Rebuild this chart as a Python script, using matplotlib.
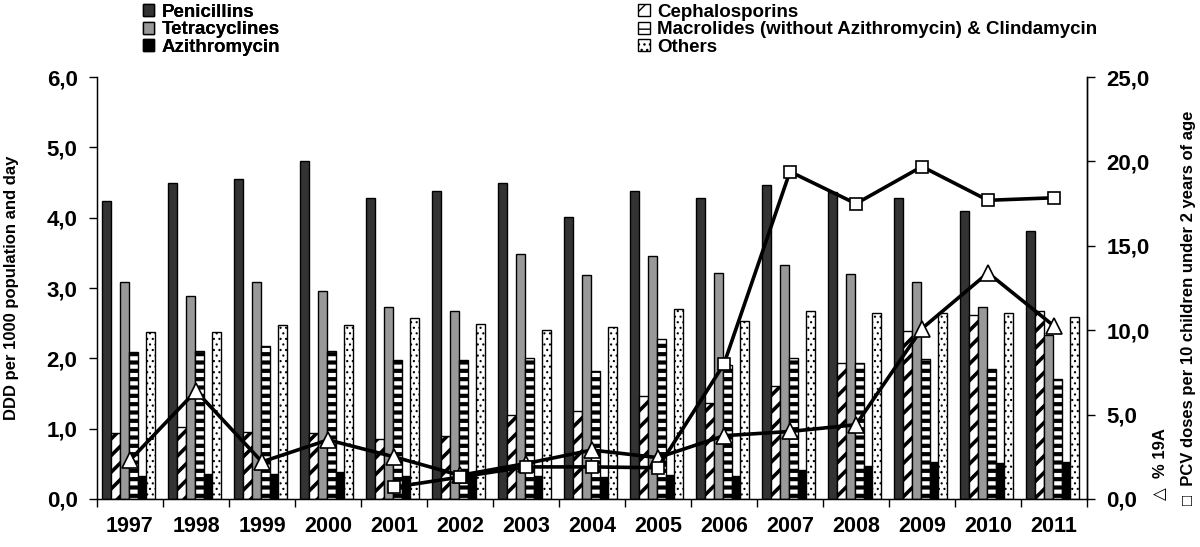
import matplotlib
matplotlib.use("Agg")
import matplotlib.pyplot as plt
from matplotlib.patches import Patch
from matplotlib.ticker import FuncFormatter
import numpy as np

plt.rcParams['font.family'] = ['Liberation Sans', 'DejaVu Sans']
plt.rcParams['font.weight'] = 'bold'

years = ["1997", "1998", "1999", "2000", "2001", "2002", "2003", "2004",
         "2005", "2006", "2007", "2008", "2009", "2010", "2011"]

# DDD per 1000 population and day
penicillins = [4.24, 4.50, 4.55, 4.81, 4.28, 4.38, 4.49, 4.01, 4.38, 4.28, 4.46, 4.37, 4.28, 4.10, 3.81]
cephalosporins = [0.94, 1.03, 0.95, 0.94, 0.86, 0.89, 1.19, 1.25, 1.46, 1.37, 1.61, 1.93, 2.39, 2.62, 2.67]
tetracyclines = [3.09, 2.88, 3.09, 2.96, 2.73, 2.67, 3.48, 3.18, 3.45, 3.22, 3.33, 3.20, 3.08, 2.73, 2.33]
macrolides = [2.09, 2.10, 2.17, 2.10, 1.97, 1.97, 2.00, 1.82, 2.27, 1.91, 2.00, 1.93, 1.99, 1.85, 1.71]
azithromycin = [0.33, 0.36, 0.36, 0.38, 0.32, 0.35, 0.32, 0.31, 0.34, 0.33, 0.41, 0.47, 0.53, 0.51, 0.53]
others = [2.37, 2.37, 2.47, 2.47, 2.57, 2.49, 2.41, 2.45, 2.70, 2.53, 2.67, 2.64, 2.65, 2.65, 2.59]

# right axis series
pct_19a = [2.3, 6.4, 2.2, 3.5, 2.5, 1.4, 2.1, 2.9, 2.45, 3.75, 4.0, 4.4, 10.1, 13.4, 10.25]
pcv_years = ["2001", "2002", "2003", "2004", "2005", "2006", "2007", "2008", "2009", "2010", "2011"]
pcv_doses = [0.7, 1.3, 1.9, 1.9, 1.85, 8.0, 19.4, 17.5, 19.7, 17.7, 17.85]

series = [
    ("Penicillins", penicillins, dict(color="#333333", hatch=None, hlw=1.0)),
    ("Cephalosporins", cephalosporins, dict(color="white", hatch="//", hlw=2.6)),
    ("Tetracyclines", tetracyclines, dict(color="#999999", hatch=None, hlw=1.0)),
    ("Macrolides (without Azithromycin) & Clindamycin", macrolides,
     dict(color="white", hatch="--", hlw=3.0)),
    ("Azithromycin", azithromycin, dict(color="black", hatch=None, hlw=1.0)),
    ("Others", others, dict(color="white", hatch="...", hlw=0.8)),
]

fig = plt.figure(figsize=(12, 5.47), dpi=100)
ax = fig.add_axes([0.0808, 0.0878, 0.825, 0.7712])

x = np.arange(len(years))
w = 0.135
handles = []
for i, (name, vals, st) in enumerate(series):
    with plt.rc_context({'hatch.linewidth': st["hlw"]}):
        ax.bar(x + (i - 2.5) * w - 0.02, vals, width=w, color=st["color"], hatch=st["hatch"],
               edgecolor="black", linewidth=1.0, label=name, zorder=2)
        handles.append(Patch(facecolor=st["color"], hatch=st["hatch"], edgecolor="black",
                             linewidth=1.0))

ax.set_xlim(-0.5, len(years) - 0.5)
ax.set_ylim(0, 6)
ax.set_yticks(np.arange(0, 6.01, 1.0))
comma = FuncFormatter(lambda v, p: f"{v:.1f}".replace(".", ","))
ax.yaxis.set_major_formatter(comma)
ax.set_xticks(x)
ax.set_xticklabels(years)
ax.set_xticks(np.arange(-0.5, len(years), 1.0), minor=True)
ax.tick_params(axis="x", which="major", length=0, labelsize=15.5, pad=12)
ax.tick_params(axis="x", which="minor", length=6, width=1, direction="out")
ax.tick_params(axis="y", length=6, width=1, direction="out", labelsize=16, pad=8)
ax.spines["top"].set_visible(False)
for s in ["left", "bottom", "right"]:
    ax.spines[s].set_linewidth(1.0)
ax.set_ylabel("DDD per 1000 population and day", fontsize=12, fontweight="bold", labelpad=20)

ax2 = ax.twinx()
ax2.set_ylim(0, 25)
ax2.set_yticks(np.arange(0, 25.01, 5.0))
ax2.yaxis.set_major_formatter(comma)
ax2.tick_params(axis="y", length=6, width=1, direction="out", labelsize=16, pad=8)
ax2.spines["top"].set_visible(False)
ax2.spines["right"].set_linewidth(1.0)

pcv_x = [years.index(y) for y in pcv_years]
ax2.plot(x, pct_19a, color="black", linewidth=2.6, marker="^", markersize=11,
         markerfacecolor="white", markeredgecolor="black", markeredgewidth=1.2, zorder=3)
ax2.plot(pcv_x, pcv_doses, color="black", linewidth=2.6, marker="s", markersize=9,
         markerfacecolor="white", markeredgecolor="black", markeredgewidth=1.2, zorder=4)

fig.text(0.9667, 0.086, "\u25b3  % 19A", rotation=90, fontsize=12, fontweight="bold",
         ha="center", va="bottom", family=["Liberation Sans", "DejaVu Sans"])
fig.text(0.990, 0.077, "\u25a1  PCV doses per 10 children under 2 years of age", rotation=90,
         fontsize=12, fontweight="bold", ha="center", va="bottom",
         family=["Liberation Sans", "DejaVu Sans"])

labels = [s[0] for s in series]
leg_opts = dict(loc="upper left", frameon=False, fontsize=13.5, handlelength=0.6,
                handleheight=0.6, handletextpad=0.4, labelspacing=0.02, borderaxespad=0,
                borderpad=0)
leg1 = fig.legend([handles[k] for k in (0, 2, 4)], [labels[k] for k in (0, 2, 4)],
                  bbox_to_anchor=(0.119, 0.993), **leg_opts)
fig.add_artist(leg1)
fig.legend([handles[k] for k in (1, 3, 5)], [labels[k] for k in (1, 3, 5)],
           bbox_to_anchor=(0.532, 0.993), **leg_opts)

fig.savefig("out.png", dpi=100)
